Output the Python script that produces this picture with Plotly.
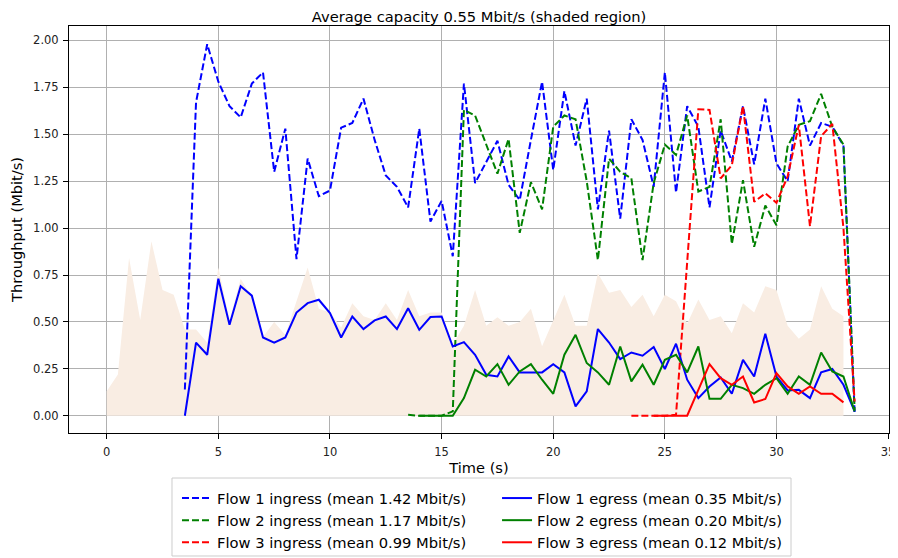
import plotly.graph_objects as go

# time axis sampled every 0.5 s
cap_t = [i * 0.5 for i in range(67)]  # 0.0 .. 33.0
cap_y = [0.13, 0.22, 0.84, 0.51, 0.93, 0.67, 0.645, 0.46, 0.46, 0.39,
         0.79, 0.51, 0.73, 0.63, 0.42, 0.50, 0.43, 0.61, 0.79, 0.57,
         0.55, 0.47, 0.60, 0.53, 0.51, 0.60, 0.51, 0.67, 0.53, 0.55,
         0.55, 0.38, 0.48, 0.67, 0.48, 0.525, 0.48, 0.50, 0.57, 0.37,
         0.51, 0.645, 0.48, 0.48, 0.76, 0.655, 0.67, 0.58, 0.645, 0.53,
         0.645, 0.61, 0.49, 0.62, 0.51, 0.53, 0.44, 0.60, 0.55, 0.69,
         0.67, 0.48, 0.41, 0.46, 0.69, 0.57, 0.53]

f1_t = [3.5 + i * 0.5 for i in range(61)]  # 3.5 .. 33.5
f1_in = [0.14, 1.67, 1.98, 1.78, 1.65, 1.59, 1.77, 1.83, 1.30, 1.53,
         0.835, 1.37, 1.17, 1.20, 1.535, 1.56, 1.69, 1.47, 1.28, 1.22,
         1.11, 1.53, 1.035, 1.145, 0.85, 1.77, 1.24, 1.355, 1.465, 1.23,
         1.15, 1.47, 1.78, 1.31, 1.73, 1.44, 1.69, 1.10, 1.52, 1.05,
         1.58, 1.47, 1.22, 1.83, 1.19, 1.65, 1.54, 1.11, 1.52, 1.355,
         1.65, 1.34, 1.69, 1.345, 1.25, 1.69, 1.44, 1.56, 1.54, 1.44,
         0.02]
f1_out = [0.0, 0.39, 0.325, 0.73, 0.485, 0.69, 0.64, 0.417, 0.39, 0.417,
          0.55, 0.60, 0.618, 0.547, 0.417, 0.529, 0.462, 0.508, 0.529, 0.462,
          0.573, 0.458, 0.526, 0.529, 0.369, 0.392, 0.325, 0.218, 0.209, 0.316,
          0.231, 0.231, 0.231, 0.275, 0.231, 0.05, 0.13, 0.462, 0.39, 0.302,
          0.337, 0.32, 0.366, 0.249, 0.384, 0.192, 0.094, 0.156, 0.204, 0.117,
          0.298, 0.209, 0.437, 0.209, 0.135, 0.138, 0.094, 0.231, 0.249, 0.165,
          0.023]

f2_in_t = [13.5 + i * 0.5 for i in range(41)]  # 13.5 .. 33.5
f2_in = [0.005, 0.0, 0.0, 0.0, 0.023, 1.63, 1.60, 1.45, 1.29, 1.475,
         0.975, 1.245, 1.10, 1.54, 1.60, 1.58, 1.25, 0.83, 1.37, 1.30,
         1.265, 0.83, 1.24, 1.445, 1.39, 1.60, 1.195, 1.22, 1.58, 0.915,
         1.255, 0.90, 1.12, 1.015, 1.435, 1.55, 1.57, 1.715, 1.54, 1.445,
         0.03]
f2_out_t = [14.0 + i * 0.5 for i in range(40)]  # 14.0 .. 33.5
f2_out = [0.0, 0.0, 0.0, 0.0, 0.094, 0.245, 0.209, 0.275, 0.165, 0.236,
          0.275, 0.192, 0.117, 0.325, 0.431, 0.281, 0.231, 0.165, 0.369, 0.183,
          0.272, 0.165, 0.298, 0.325, 0.231, 0.369, 0.09, 0.09, 0.165, 0.147,
          0.117, 0.165, 0.20, 0.117, 0.209, 0.165, 0.337, 0.236, 0.209, 0.023]

f3_in_t = [23.5 + i * 0.5 for i in range(21)]  # 23.5 .. 33.5
f3_in = [0.0, 0.0, 0.0, 0.0, 0.005, 0.82, 1.633, 1.63, 1.265, 1.335,
         1.65, 1.14, 1.185, 1.135, 1.275, 1.55, 1.01, 1.49, 1.555, 1.0,
         0.076]
f3_out_t = [24.5 + i * 0.5 for i in range(18)]  # 24.5 .. 33.0
f3_out = [0.0, 0.0, 0.0, 0.0, 0.138, 0.275, 0.20, 0.165, 0.209, 0.071,
          0.089, 0.227, 0.156, 0.117, 0.156, 0.117, 0.117, 0.071]

fig = go.Figure()

fig.add_trace(go.Scatter(x=cap_t, y=cap_y, fill="tozeroy", mode="lines",
                         line=dict(width=0, color="#f9ede3"), fillcolor="#f9ede3",
                         showlegend=False, hoverinfo="skip"))

dash = "7px,3px"
# ingress flows go in the left legend column, egress in the right one
series = [
    (f1_t, f1_in, "blue", dash, "Flow 1 ingress (mean 1.42 Mbit/s)", "legend"),
    (f2_in_t, f2_in, "green", dash, "Flow 2 ingress (mean 1.17 Mbit/s)", "legend"),
    (f3_in_t, f3_in, "red", dash, "Flow 3 ingress (mean 0.99 Mbit/s)", "legend"),
    (f1_t, f1_out, "blue", "solid", "Flow 1 egress (mean 0.35 Mbit/s)", "legend2"),
    (f2_out_t, f2_out, "green", "solid", "Flow 2 egress (mean 0.20 Mbit/s)", "legend2"),
    (f3_out_t, f3_out, "red", "solid", "Flow 3 egress (mean 0.12 Mbit/s)", "legend2"),
]
for t, y, color, d, name, leg in series:
    fig.add_trace(go.Scatter(x=t, y=y, mode="lines", name=name, legend=leg,
                             legendgroup=name,
                             line=dict(color=color, width=2, dash=d)))

axis_style = dict(showgrid=True, gridcolor="#b0b0b0", gridwidth=1,
                  showline=True, linecolor="black", linewidth=1, mirror=True,
                  ticks="outside", ticklen=5, tickcolor="black",
                  zeroline=False, automargin=False,
                  tickfont=dict(size=11.5, color="#222222"))

fig.update_xaxes(range=[-1.69, 35.04], dtick=5, tick0=0, ticklabelstandoff=3,
                 title=dict(text="Time (s)", font=dict(size=14.6), standoff=3),
                 **axis_style)
fig.update_yaxes(range=[-0.092, 2.077], dtick=0.25, tick0=0, tickformat=".2f",
                 ticklabelstandoff=2,
                 title=dict(text="Throughput (Mbit/s)", font=dict(size=14.6), standoff=7),
                 **axis_style)

# page has an 8px body margin, so the figure is 8px smaller than the window
W, H = 890, 550
leg_common = dict(orientation="v", yref="container", yanchor="top",
                  y=1 - 474 / H, xanchor="left", font=dict(size=14.7),
                  bgcolor="rgba(0,0,0,0)", borderwidth=0, tracegroupgap=0)

fig.update_layout(
    width=W, height=H,
    margin=dict(l=61, r=9, t=18, b=125),
    paper_bgcolor="white", plot_bgcolor="white",
    font=dict(family="DejaVu Sans", color="black"),
    title=dict(text="Average capacity 0.55 Mbit/s (shaded region)",
               x=471 / W, xanchor="center", xref="container",
               y=1 - 8.5 / H, yanchor="middle", yref="container",
               font=dict(size=14.7)),
    legend=dict(x=0.1317, **leg_common),
    legend2=dict(x=0.522, **leg_common),
    shapes=[dict(type="rect", xref="paper", yref="paper",
                 x0=0.1256, x1=0.8805, y0=-0.3022, y1=-0.1106,
                 line=dict(color="#cccccc", width=1), fillcolor="white",
                 layer="below")],
)

fig.write_html("out.html")
